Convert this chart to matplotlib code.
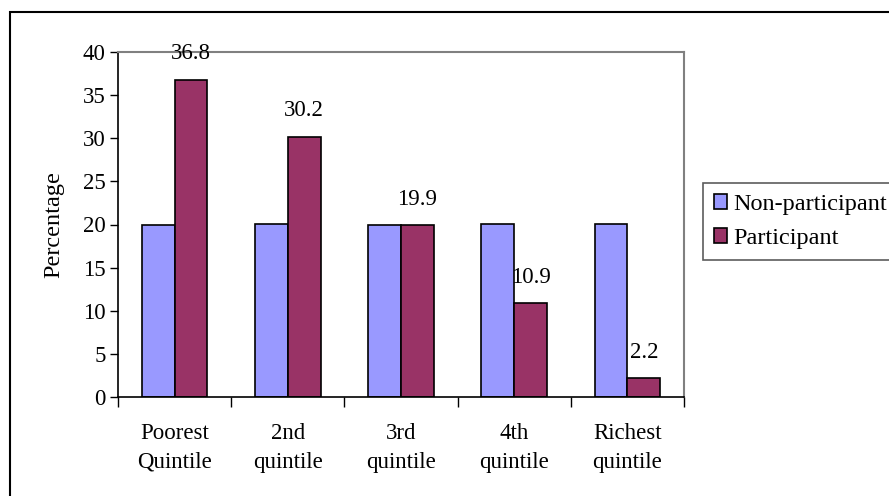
import matplotlib.pyplot as plt
from matplotlib.patches import Rectangle
import numpy as np

categories = ["Poorest\nQuintile", "2nd\nquintile", "3rd\nquintile", "4th\nquintile", "Richest\nquintile"]
non_participant = [19.9, 20.1, 20.0, 20.1, 20.1]
participant = [36.8, 30.2, 19.9, 10.9, 2.2]
participant_labels = ["36.8", "30.2", "19.9", "10.9", "2.2"]

plt.rcParams["font.family"] = ["Liberation Serif", "DejaVu Serif"]


def main():
    fig = plt.figure(figsize=(8.89, 4.96), dpi=100)
    ax = fig.add_axes([118 / 889, 1 - 397 / 496, 566 / 889, 345 / 496])

    x = np.arange(len(categories))
    w = 0.29
    ax.bar(x - w / 2, non_participant, w, color="#9999FF", edgecolor="black",
           linewidth=1.2, label="Non-participant")
    ax.bar(x + w / 2, participant, w, color="#993366", edgecolor="black",
           linewidth=1.2, label="Participant")

    for xi, v, lab in zip(x, participant, participant_labels):
        ax.annotate(lab, (xi + w / 2, v), xytext=(0, 11), textcoords="offset points",
                    ha="center", va="bottom", fontsize=16.5)

    ax.set_xlim(-0.5, len(categories) - 0.5)
    ax.set_ylim(0, 40)
    ax.set_yticks(range(0, 41, 5))
    ax.tick_params(axis="y", labelsize=16.5, direction="out", length=6, width=1, pad=3)

    # category boundaries as ticks, labels at centers
    ax.set_xticks(np.arange(-0.5, len(categories), 1))
    ax.set_xticklabels([])
    ax.set_xticks(x, minor=True)
    ax.set_xticklabels(categories, minor=True, fontsize=16.5, linespacing=1.45)
    ax.tick_params(axis="x", which="major", direction="out", length=7, width=1)
    ax.tick_params(axis="x", which="minor", length=0, pad=19)

    ax.set_ylabel("Percentage", fontsize=17.5, labelpad=13)

    ax.spines["top"].set_color("#808080")
    ax.spines["right"].set_color("#808080")
    ax.spines["top"].set_linewidth(1.5)
    ax.spines["right"].set_linewidth(1.5)
    ax.spines["left"].set_linewidth(1.2)
    ax.spines["bottom"].set_linewidth(1.2)

    leg = fig.legend(loc="upper left", bbox_to_anchor=(703 / 889, 1 - 183 / 496),
                     fontsize=17.5, frameon=True, fancybox=False, edgecolor="#333333",
                     handlelength=0.55, handleheight=0.55, handletextpad=0.25,
                     borderpad=0.45, labelspacing=0.55, borderaxespad=0)
    leg.get_frame().set_linewidth(1.2)

    # outer chart border
    fig.patches.append(Rectangle((10 / 889, -0.1), 1.2, 1 - 12 / 496 + 0.1,
                                 transform=fig.transFigure, fill=False,
                                 edgecolor="black", linewidth=1.5))

    fig.savefig("out.png", dpi=100)
    plt.close()


if __name__ == "__main__":
    main()
